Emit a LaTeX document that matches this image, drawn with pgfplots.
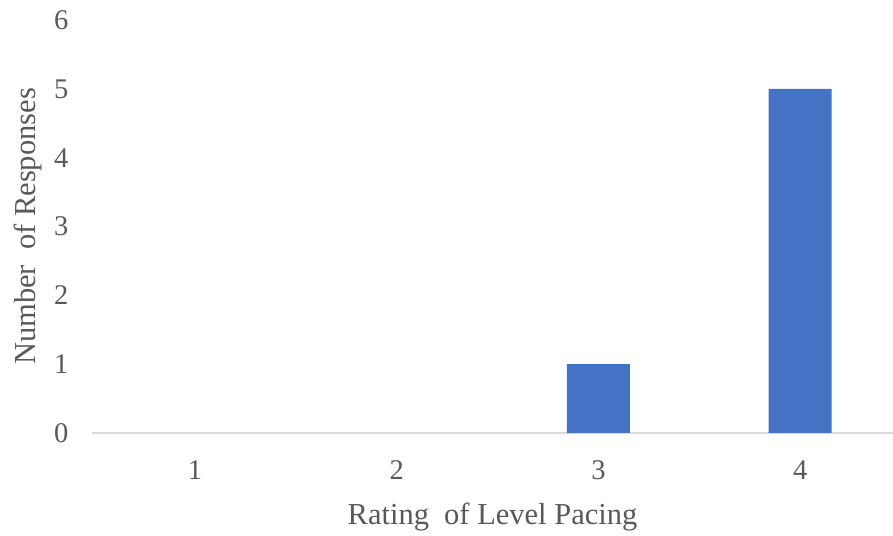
\documentclass[border=0pt]{standalone}
\usepackage{pgfplots}
\pgfplotsset{compat=1.18}
\usepackage{fontspec}
\setmainfont{Liberation Serif}
\definecolor{barblue}{HTML}{4472C4}
\definecolor{textgray}{HTML}{595959}
\definecolor{basegray}{HTML}{D9D9D9}
\begin{document}
\begin{tikzpicture}
\begin{axis}[
  scale only axis,
  width=801pt, height=413pt,
  xmin=0.49, xmax=4.46,
  ymin=0, ymax=6,
  ytick={0,1,...,6},
  xtick={1,2,3,4},
  axis x line*=bottom,
  axis y line*=left,
  x axis line style={basegray, line width=1.2pt, -},
  y axis line style={draw=none},
  major tick length=0pt,
  tick style={draw=none},
  ybar, bar width=63pt,
  /pgf/number format/assume math mode=true,
  ticklabel style={font=\fontsize{28.5}{30}\selectfont, text=textgray},
  xticklabel style={yshift=-24pt},
  yticklabel style={xshift=-20pt},
  xlabel={Rating\ \ of Level Pacing},
  ylabel={Number\ \ of Responses},
  label style={font=\fontsize{30.5}{32}\selectfont, text=textgray},
  xlabel style={yshift=-16pt},
  ylabel style={yshift=5pt},
]
\addplot[fill=barblue, draw=none] coordinates {(3,1) (4,5)};
\end{axis}
\pgfresetboundingbox
\path[use as bounding box] ([xshift=-92pt,yshift=-103pt]current axis.south west) rectangle ([yshift=20pt]current axis.north east);
\end{tikzpicture}
\end{document}
